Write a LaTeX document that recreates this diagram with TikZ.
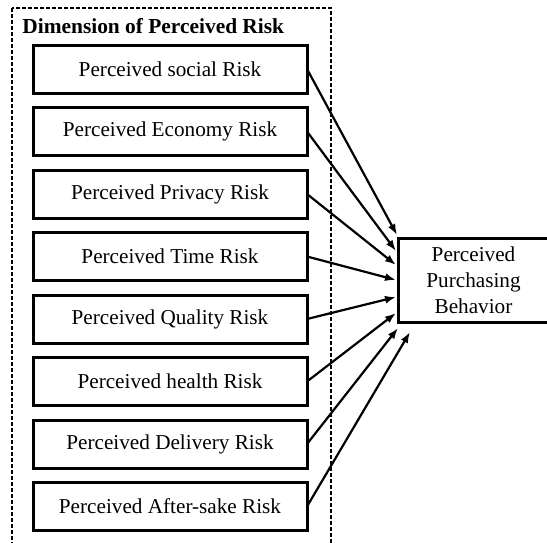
\documentclass[tikz,border=0pt]{standalone}
\usepackage{fontspec}
\setmainfont{Liberation Serif}
\usetikzlibrary{arrows.meta, positioning, calc}
\tikzset{
  riskbox/.style={rectangle, draw=black, line width=1.5pt, fill=white,
              minimum width=137pt, minimum height=24pt, inner sep=2pt,
              outer sep=0pt, font=\fontsize{10.6}{13}\selectfont},
  resultbox/.style={rectangle, draw=black, line width=1.5pt, fill=white,
              minimum width=75.5pt, minimum height=42pt, align=center,
              outer sep=0pt, font=\fontsize{10.6}{13}\selectfont},
  dimframe/.style={draw=black, line width=0.75pt, dash pattern=on 2pt off 1pt},
  arrow/.style={-{Latex[length=5.5pt,width=4pt]}, line width=1.1pt, color=black},
}

\begin{document}
\begin{tikzpicture}[x=0.5pt, y=-0.5pt, node distance=7.25pt]
  \clip (0,0) rectangle (547,542);

  % dashed frame around the risk dimensions
  \draw[dimframe] (12,8) rectangle (331,560);
  \node[anchor=base west, inner sep=0pt, font=\fontsize{10.7}{13}\selectfont\bfseries] (dimtitle) at (22,33)
       {Dimension of Perceived Risk};

  \node[riskbox] (social) at (170,69) {Perceived social Risk};
  \node[riskbox, below=of social] (economy) {Perceived Economy Risk};
  \node[riskbox, below=of economy] (privacy) {Perceived Privacy Risk};
  \node[riskbox, below=of privacy] (time) {Perceived Time Risk};
  \node[riskbox, below=of time] (quality) {Perceived Quality Risk};
  \node[riskbox, below=of quality] (health) {Perceived health Risk};
  \node[riskbox, below=of health] (delivery) {Perceived Delivery Risk};
  \node[riskbox, below=of delivery] (aftersale) {Perceived After-sake Risk};

  \node[resultbox] (behavior) at (473.5,280) {Perceived\\Purchasing\\Behavior};

  \draw[arrow] (social.east) -- ($(behavior.west)+(-1,-45)$);
  \draw[arrow] (economy.east) -- ($(behavior.west)+(-2,-29)$);
  \draw[arrow] (privacy.east) -- ($(behavior.west)+(-2,-15)$);
  \draw[arrow] (time.east) -- ($(behavior.west)+(-2,0)$);
  \draw[arrow] (quality.east) -- ($(behavior.west)+(-2,17)$);
  \draw[arrow] (health.east) -- ($(behavior.west)+(-2,33)$);
  \draw[arrow] (delivery.east) -- ($(behavior.west)+(0,48)$);
  \draw[arrow] (aftersale.east) -- ($(behavior.west)+(12,52)$);
\end{tikzpicture}
\end{document}
